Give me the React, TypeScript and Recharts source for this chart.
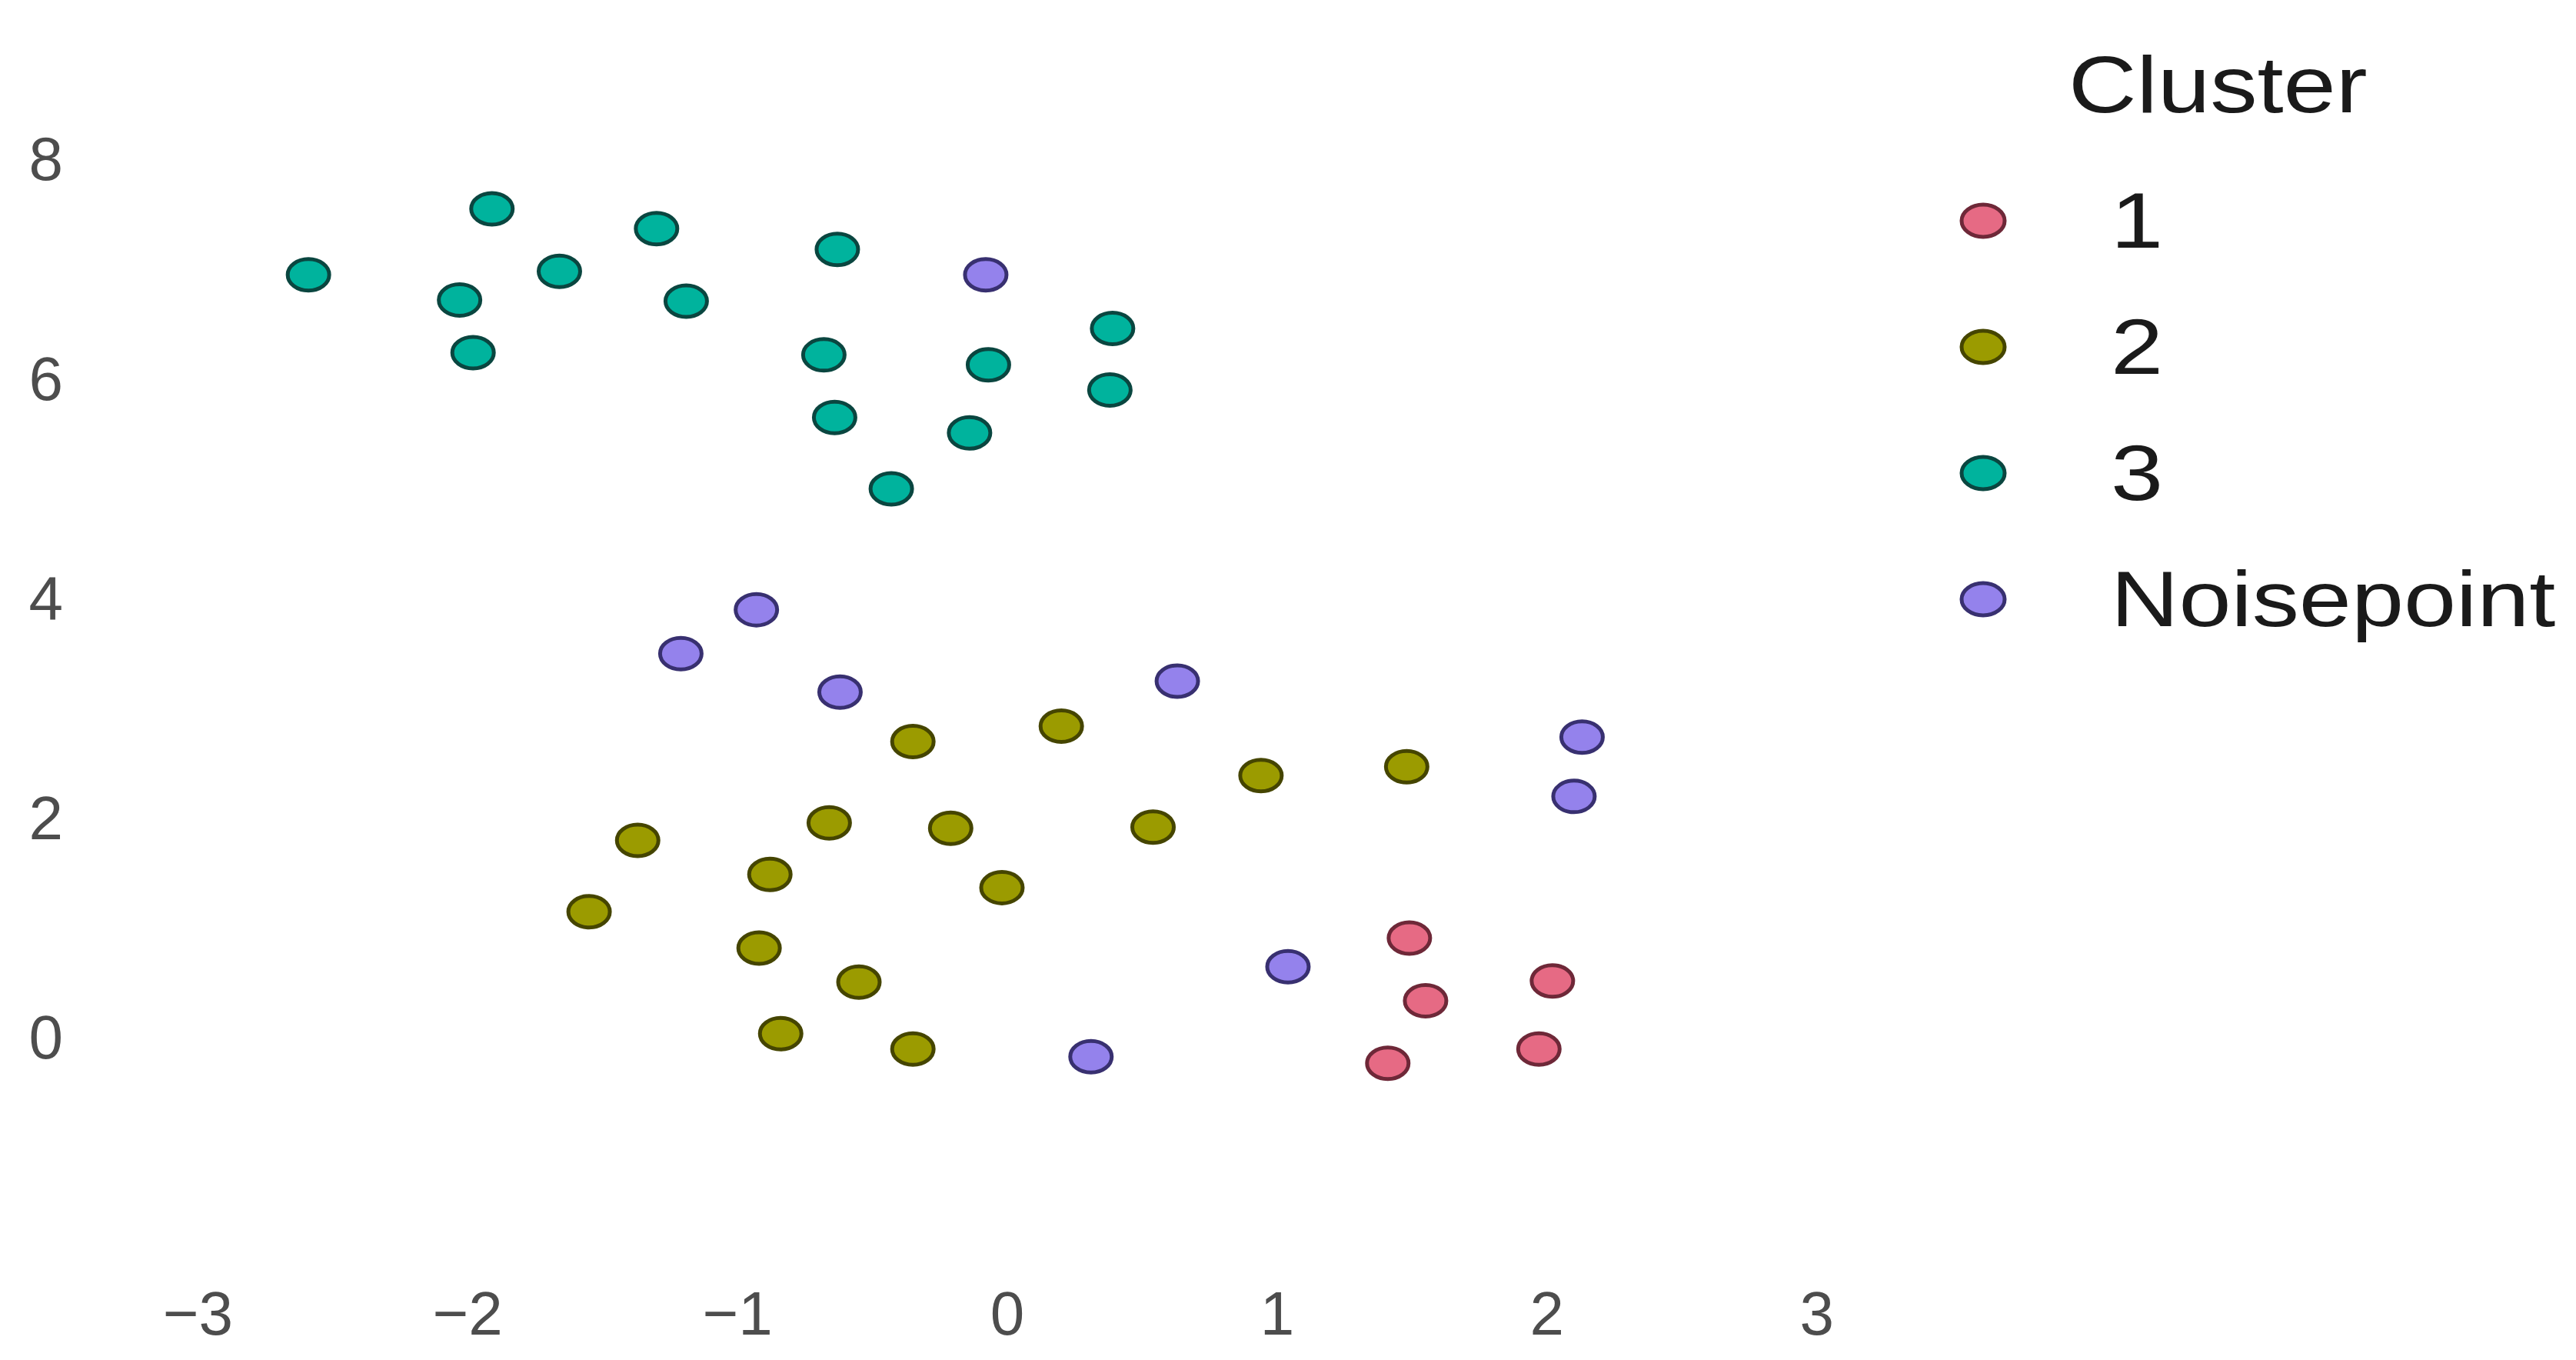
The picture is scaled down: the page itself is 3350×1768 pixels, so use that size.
import { ScatterChart, Scatter, XAxis, YAxis, Legend } from 'recharts';

type Pt = { x: number; y: number };

const clusterNames = ['1', '2', '3', 'Noisepoint'];
const clusterFills = ['#E66A84', '#9B9B00', '#00B39D', '#9482EC'];
const clusterStrokes = ['#6E2838', '#454500', '#0A4640', '#383070'];

const xTicks = [-3, -2, -1, 0, 1, 2, 3];
const yTicks = [0, 2, 4, 6, 8];

const cluster1: Pt[] = [
  { x: 1.49, y: 0.90 },
  { x: 2.02, y: 0.51 },
  { x: 1.55, y: 0.33 },
  { x: 1.97, y: -0.11 },
  { x: 1.41, y: -0.24 },
];

const cluster2: Pt[] = [
  { x: -0.35, y: 2.69 },
  { x: 0.20, y: 2.83 },
  { x: 0.94, y: 2.38 },
  { x: 1.48, y: 2.46 },
  { x: -0.66, y: 1.95 },
  { x: -0.21, y: 1.90 },
  { x: 0.54, y: 1.91 },
  { x: -1.37, y: 1.79 },
  { x: -0.88, y: 1.48 },
  { x: -0.02, y: 1.36 },
  { x: -1.55, y: 1.14 },
  { x: -0.92, y: 0.81 },
  { x: -0.55, y: 0.50 },
  { x: -0.84, y: 0.03 },
  { x: -0.35, y: -0.11 },
];

const cluster3: Pt[] = [
  { x: -2.59, y: 6.94 },
  { x: -1.91, y: 7.54 },
  { x: -1.30, y: 7.36 },
  { x: -1.66, y: 6.97 },
  { x: -2.03, y: 6.71 },
  { x: -1.19, y: 6.70 },
  { x: -1.98, y: 6.23 },
  { x: -0.63, y: 7.17 },
  { x: 0.39, y: 6.45 },
  { x: -0.68, y: 6.21 },
  { x: -0.07, y: 6.12 },
  { x: 0.38, y: 5.89 },
  { x: -0.64, y: 5.64 },
  { x: -0.14, y: 5.50 },
  { x: -0.43, y: 4.99 },
];

const noisepoints: Pt[] = [
  { x: -0.08, y: 6.94 },
  { x: -0.93, y: 3.89 },
  { x: -1.21, y: 3.49 },
  { x: -0.62, y: 3.14 },
  { x: 0.63, y: 3.24 },
  { x: 2.13, y: 2.73 },
  { x: 2.10, y: 2.19 },
  { x: 1.04, y: 0.64 },
  { x: 0.31, y: -0.18 },
];

const seriesData = [cluster1, cluster2, cluster3, noisepoints];

const FONT = '"Liberation Sans", Arial, sans-serif';

const makeDot = (i: number) => (props: any) => (
  <ellipse
    cx={props.cx}
    cy={props.cy}
    rx={27}
    ry={20.5}
    fill={clusterFills[i]}
    stroke={clusterStrokes[i]}
    strokeWidth={5}
  />
);

function ClusterLegend() {
  return (
    <div style={{ fontFamily: FONT, color: '#1a1a1a', width: 860, height: 860 }}>
      <div
        style={{
          position: 'absolute',
          left: 2690 - 2480,
          top: 38,
          fontSize: 104,
          lineHeight: '144px',
          transform: 'scaleX(1.18)',
          transformOrigin: 'left center',
        }}
      >
        Cluster
      </div>
      {clusterNames.map((name, i) => (
        <div key={name} style={{ position: 'absolute', left: 0, top: 287 + i * 164 - 60, height: 120, width: 860 }}>
          <svg width={140} height={120} style={{ position: 'absolute', left: 2579 - 2480 - 70, top: 0 }}>
            <ellipse cx={70} cy={60} rx={28} ry={21} fill={clusterFills[i]} stroke={clusterStrokes[i]} strokeWidth={5} />
          </svg>
          <div
            style={{
              position: 'absolute',
              left: 2745 - 2480,
              top: 0,
              fontSize: 102,
              lineHeight: '120px',
              transform: 'scaleX(1.2)',
              transformOrigin: 'left center',
              whiteSpace: 'nowrap',
            }}
          >
            {name}
          </div>
        </div>
      ))}
    </div>
  );
}

export default function App() {
  return (
    <div style={{ position: 'absolute', left: 0, top: 0, width: 3350, height: 1768, background: '#fff' }}>
      <ScatterChart width={3350} height={1768} margin={{ top: 63, right: 882, bottom: 0, left: 0 }}>
        <XAxis
          type="number"
          dataKey="x"
          domain={[-3.3, 3.3]}
          allowDataOverflow
          ticks={xTicks}
          axisLine={false}
          tickLine={false}
          tickSize={0}
          tickMargin={180}
          height={270}
          tickFormatter={(v: number) => (v < 0 ? '\u2212' + Math.abs(v) : String(v))}
          tick={{ fontSize: 80, fill: '#4D4D4D', fontFamily: FONT }}
        />
        <YAxis
          type="number"
          dataKey="y"
          domain={[-1.05, 9]}
          allowDataOverflow
          ticks={yTicks}
          axisLine={false}
          tickLine={false}
          tickSize={0}
          tickMargin={70}
          width={152}
          tick={{ fontSize: 80, fill: '#4D4D4D', fontFamily: FONT }}
        />
        <Legend
          layout="vertical"
          align="center"
          verticalAlign="middle"
          wrapperStyle={{ left: 2480, top: 0, width: 860, height: 860 }}
          content={() => <ClusterLegend />}
        />
        {seriesData.map((d, i) => (
          <Scatter
            key={clusterNames[i]}
            name={clusterNames[i]}
            data={d}
            fill={clusterFills[i]}
            shape={makeDot(i)}
            isAnimationActive={false}
          />
        ))}
      </ScatterChart>
    </div>
  );
}
